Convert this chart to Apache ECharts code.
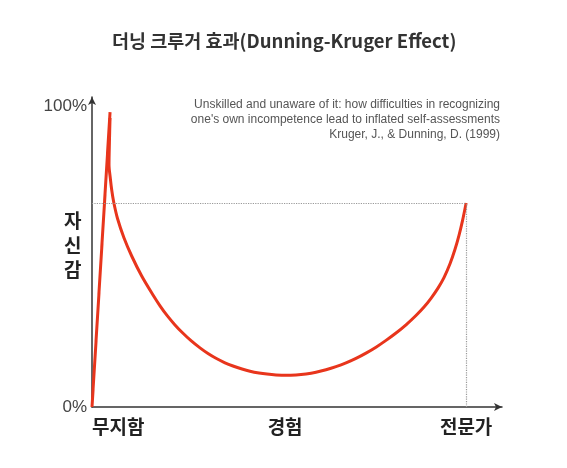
<!DOCTYPE html>
<html>
<head>
<meta charset="utf-8">
<script src="https://cdn.jsdelivr.net/npm/echarts@6/dist/echarts.min.js"></script>
<style>
html,body{margin:0;padding:0;background:#fff;}
#c{width:567px;height:468px;}
</style>
</head>
<body>
<div id="c"></div>
<script>
// Data (x: experience 0-100, y: confidence %)
var riseLine = [[0, 0], [4.4, 98]];
var confidenceCurve = [
  [4.4, 96], [4.25, 88], [4.15, 80.4], [4.46, 76.08], [4.81, 72.09], [5.29, 68.11],
  [6.22, 62.62], [7.81, 56.15], [9.68, 50.17], [12.12, 43.52], [14.88, 37.21],
  [16.59, 33.62], [18.29, 30.43], [20.24, 27.28], [22.20, 24.49], [24.15, 22.03],
  [26.34, 19.63], [28.29, 17.77], [30.24, 16.18], [32.44, 14.68], [34.39, 13.62],
  [36.59, 12.62], [38.54, 11.89], [40.73, 11.30], [42.68, 10.93], [44.88, 10.66],
  [47.32, 10.53], [49.76, 10.66], [52.20, 11.00], [54.63, 11.56], [57.07, 12.36],
  [59.51, 13.39], [61.95, 14.65], [64.39, 16.15], [66.83, 17.91], [69.27, 19.87],
  [71.71, 22.13], [74.15, 24.58], [76.59, 27.31], [79.02, 30.40], [80.98, 33.22],
  [82.68, 36.11], [84.39, 39.50], [85.85, 42.99], [87.32, 47.57], [88.54, 52.39],
  [89.51, 57.04], [90.37, 61.93], [91.25, 67.8]
];
var expertX = 91.25;
var expertY = 67.8;
var xTickValues = [6.4, 47.1, 91.25];
var xTickLabels = ['무지함', '경험', '전문가'];
var yTickValues = [0, 100];
var yTickLabels = ['0%', '100%'];
var noteLines = [
  'Unskilled and unaware of it: how difficulties in recognizing',
  'one\'s own incompetence lead to inflated self-assessments',
  'Kruger, J., & Dunning, D. (1999)'
];

var noteGraphics = noteLines.map(function (t, i) {
  return {
    type: 'text', x: 500, y: 105 + i * 15,
    style: {
      text: t, textAlign: 'right', textVerticalAlign: 'middle',
      font: '12px "Liberation Sans", Arial, sans-serif', fill: '#555'
    }
  };
});

var chart = echarts.init(document.getElementById('c'));
chart.setOption({
  backgroundColor: '#ffffff',
  animation: false,
  title: [
    {
      text: '더닝 크루거 효과(Dunning-Kruger Effect)',
      left: 107, top: 27,
      textStyle: {fontFamily: 'Noto Sans CJK KR', fontSize: 18.5, fontWeight: 'bold', color: '#333'}
    },
    {
      text: '자\n신\n감',
      left: 59, top: 204,
      textStyle: {fontFamily: 'Noto Sans CJK KR', fontSize: 19, fontWeight: 'bold', color: '#222', lineHeight: 24.5}
    }
  ],
  graphic: noteGraphics,
  grid: {left: 92, right: 65, top: 97, bottom: 61},
  xAxis: {
    type: 'value', min: 0, max: 100,
    splitLine: {show: false},
    axisTick: {show: false},
    axisLine: {show: true, onZero: false, lineStyle: {color: '#333', width: 1.5}, symbol: ['none', 'arrow'], symbolSize: [6, 8]},
    axisLabel: {
      customValues: xTickValues,
      formatter: function (v) { var i = xTickValues.indexOf(v); return i >= 0 ? xTickLabels[i] : ''; },
      fontFamily: 'Noto Sans CJK KR', fontSize: 19, fontWeight: 'bold', color: '#222', margin: 10
    }
  },
  yAxis: {
    type: 'value', min: 0, max: 103,
    splitLine: {show: false},
    axisTick: {show: false},
    axisLine: {show: true, onZero: false, lineStyle: {color: '#333', width: 1.5}, symbol: ['none', 'arrow'], symbolSize: [6, 8]},
    axisLabel: {
      customValues: yTickValues,
      formatter: function (v) { var i = yTickValues.indexOf(v); return i >= 0 ? yTickLabels[i] : ''; },
      fontFamily: 'Liberation Sans', fontSize: 17, color: '#444', margin: 5
    }
  },
  series: [
    {
      type: 'line', data: riseLine, showSymbol: false, silent: true,
      lineStyle: {color: '#e8351c', width: 3}, z: 3
    },
    {
      type: 'line', data: confidenceCurve, smooth: 0.3, showSymbol: false, silent: true,
      lineStyle: {color: '#e8351c', width: 3}, z: 3,
      markLine: {
        silent: true, symbol: 'none', animation: false,
        label: {show: false},
        lineStyle: {color: '#999', type: 'dotted', width: 1.2},
        data: [
          [{coord: [0, expertY]}, {coord: [expertX, expertY]}],
          [{coord: [expertX, 0]}, {coord: [expertX, expertY]}]
        ]
      }
    }
  ]
});
</script>
</body>
</html>
